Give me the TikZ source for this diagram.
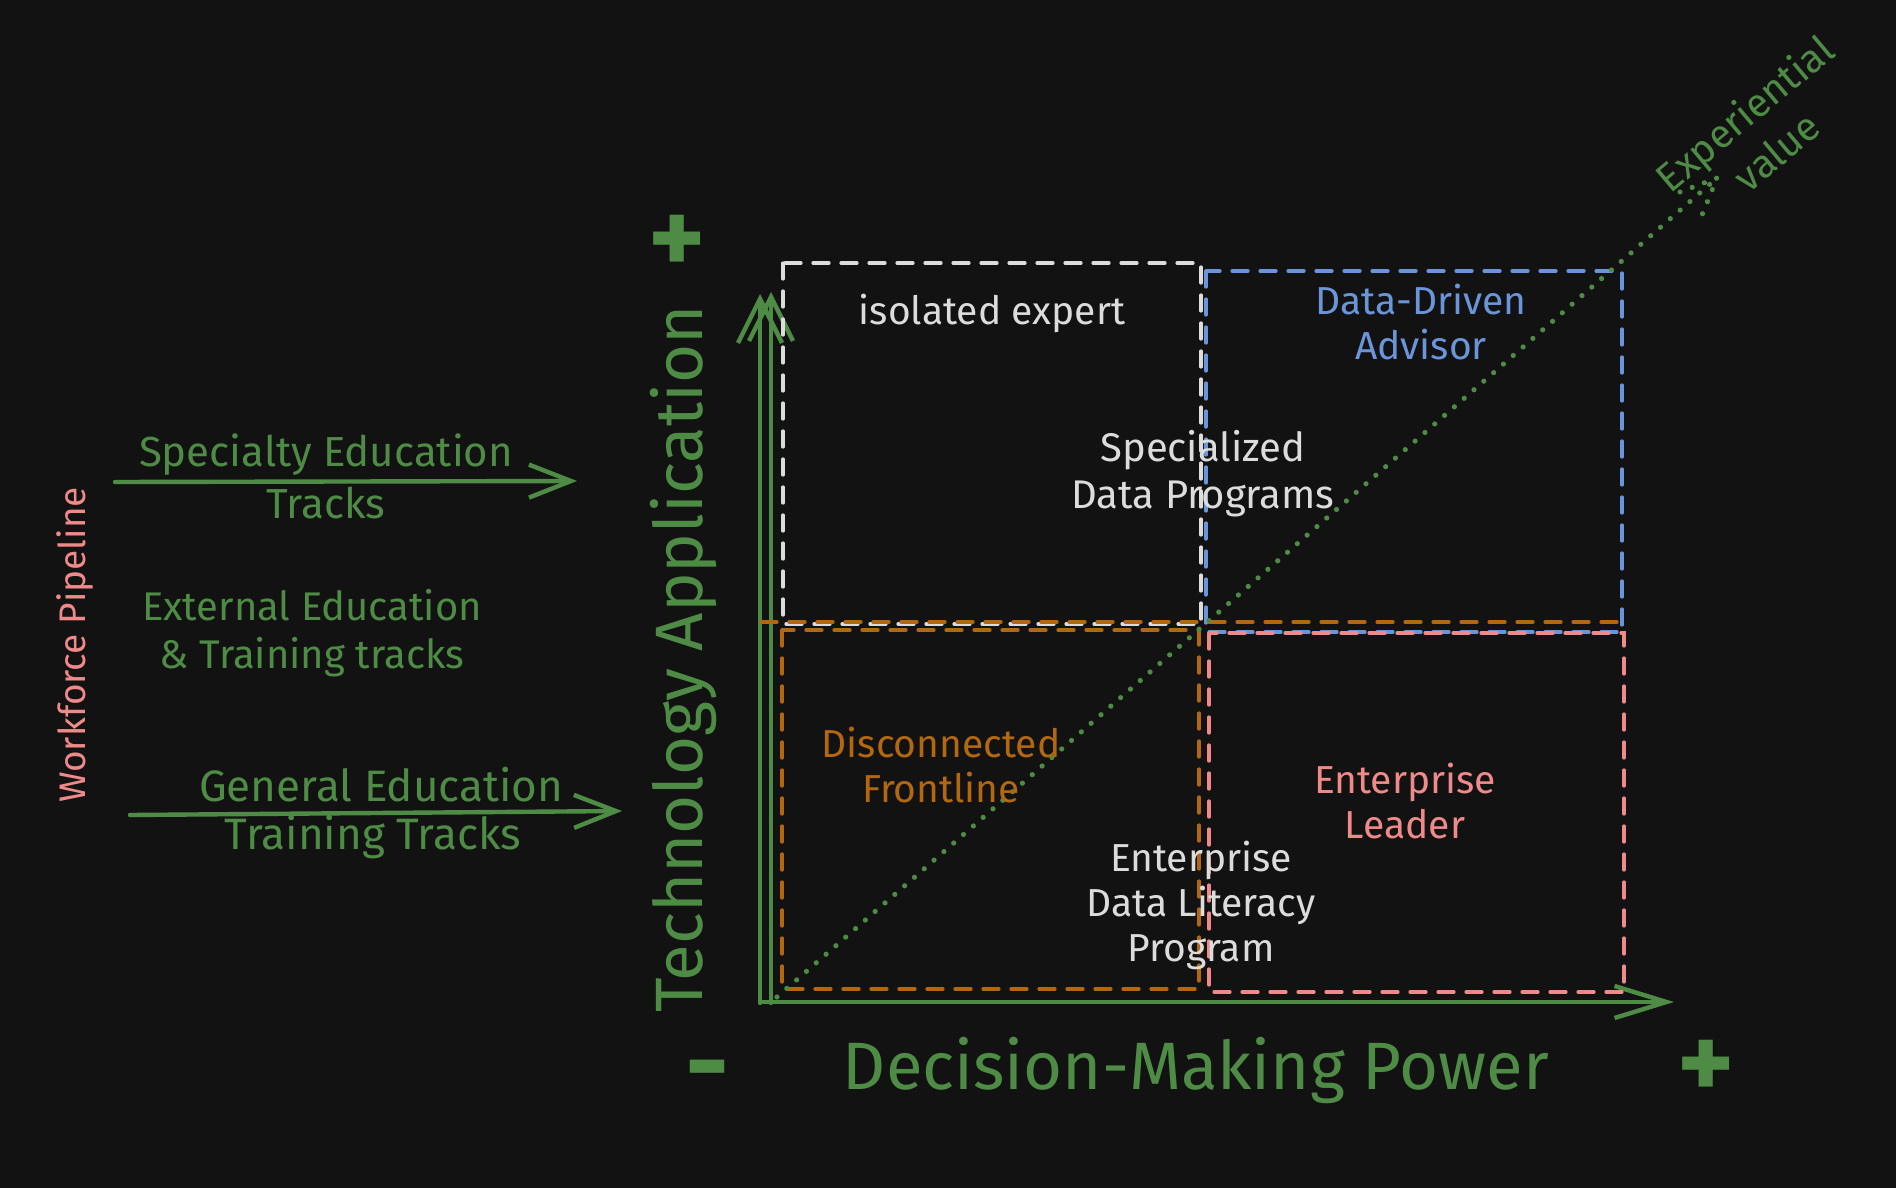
\documentclass[tikz,border=0pt]{standalone}
\usepackage{fontspec}
\setmainfont{Fira Sans}
\usetikzlibrary{arrows.meta}
\definecolor{bg}{HTML}{121212}
\definecolor{grn}{HTML}{4E8C45}
\definecolor{org}{HTML}{B3670F}
\definecolor{blu}{HTML}{6B95DA}
\definecolor{rdd}{HTML}{F08A8A}
\definecolor{wht}{HTML}{DCDCDC}
\begin{document}
\begin{tikzpicture}[x=0.5pt,y=-0.5pt,
  every node/.style={inner sep=0pt, outer sep=0pt},
  lbl/.style={font=\fontsize{19.5}{22.5}\selectfont, align=center},
  glbl/.style={font=\fontsize{21}{24}\selectfont, align=center, text=grn},
  biglbl/.style={font=\fontsize{33.5}{36}\selectfont, text=grn},
  sign/.style={font=\fontsize{54}{54}\selectfont\bfseries, text=grn},
  axisline/.style={draw=grn, line width=2.2pt, line cap=round, line join=round},
  ytip/.style={-{Straight Barb[length=22pt,width=22pt]}},
  xtip/.style={-{Straight Barb[length=26pt,width=16pt]}},
  ltip/.style={-{Straight Barb[length=21pt,width=16.5pt]}},
  dashbox/.style={line width=1.6pt, dash pattern=on 8pt off 6pt, line cap=round},
  dotline/.style={draw=grn, line width=2.6pt, line cap=round, dash pattern=on 0.01pt off 6.5pt}]
\useasboundingbox (0,0) rectangle (1896,1188);
\fill[bg] (0,0) rectangle (1896,1188);

% axes
\coordinate (o1) at (760,1003);
\coordinate (t1) at (760,294);
\coordinate (o2) at (771,1003);
\coordinate (t2) at (771,292);
\coordinate (xo) at (760,1002);
\coordinate (xe) at (1674,1002);
\draw[axisline, ytip] (o1) -- (t1);
\draw[axisline, ytip] (o2) -- (t2);
\draw[axisline, xtip] (xo) -- (xe);

% quadrant boxes
\draw[dashbox, draw=wht] (783,263) rectangle (1201,624);
\draw[dashbox, draw=blu] (1206,271) rectangle (1622,632);
\draw[dashbox, draw=org] (782,630) rectangle (1199,989);
\draw[dashbox, draw=org] (761,622) -- (1622,622);
\draw[dashbox, draw=rdd] (1209,633) rectangle (1624,992);

% diagonal dotted arrow
\coordinate (ds) at (777,997);
\coordinate (de) at (1717,178);
\coordinate (db1) at (1680,192);
\coordinate (db2) at (1702,215);
\draw[dotline] (ds) -- (de);
\draw[dotline] (db1) -- (de) -- (db2);
\node[lbl, text=grn, rotate=40, font=\fontsize{20}{25}\selectfont] (exp) at (1760,132) {Experiential\\value};

% axis labels
\node[biglbl, rotate=90] (tech) at (683,659) {Technology Application};
\node[biglbl] (dec) at (1196,1070) {Decision-Making Power};
\node[sign] (ptop) at (677,245) {+};
\node[sign] (pright) at (1706,1070) {+};
\node[sign] (mleft) at (707,1080) {-};

% quadrant labels
\node[lbl, text=wht] (iso) at (992,313) {isolated expert};
\node[lbl, text=blu] (dda) at (1421,322) {Data-Driven\\Advisor};
\node[lbl, text=wht, font=\fontsize{20}{23.5}\selectfont] (sdp) at (1203,474) {Specialized\\Data Programs};
\node[lbl, text=org] (dfl) at (941,765) {Disconnected\\Frontline};
\node[lbl, text=rdd] (eld) at (1405,801) {Enterprise\\Leader};
\node[lbl, text=wht] (edl) at (1201,905) {Enterprise\\Data Literacy\\Program};

% left side
\node[lbl, text=rdd, rotate=90, font=\fontsize{18.5}{20}\selectfont] (wfp) at (75,645) {Workforce Pipeline};
\coordinate (sa) at (115,482);
\coordinate (sb) at (577,481);
\draw[axisline, ltip] (sa) -- (sb);
\node[glbl] (spe1) at (326,455) {Specialty Education};
\node[glbl] (spe2) at (326,503) {Tracks};
\node[glbl, font=\fontsize{20}{24}\selectfont] (ext) at (312,633) {External Education\\\& Training tracks};
\coordinate (ga) at (130,815);
\coordinate (gb) at (622,811);
\draw[axisline, ltip] (ga) -- (gb);
\node[glbl, font=\fontsize{22}{24}\selectfont] (gen1) at (381,785) {General Education};
\node[glbl, font=\fontsize{22}{24}\selectfont] (gen2) at (373,837) {Training Tracks};
\end{tikzpicture}
\end{document}
